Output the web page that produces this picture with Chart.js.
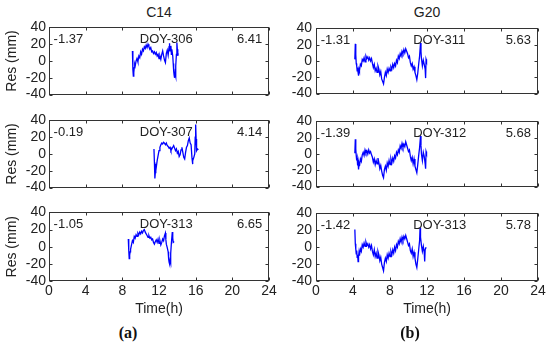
<!DOCTYPE html>
<html>
<head>
<meta charset="utf-8">
<script src="https://cdn.jsdelivr.net/npm/chart.js@4.4.1/dist/chart.umd.min.js"></script>
<style>
html,body{margin:0;padding:0;background:#fff;}
#wrap{position:relative;width:550px;height:345px;overflow:hidden;font-family:'Liberation Sans',Arial,sans-serif;color:#222;}
#wrap canvas{position:absolute;}
.lbl{position:absolute;text-align:center;font-size:14px;line-height:16px;}
.sub{position:absolute;text-align:center;font-family:'Liberation Serif','Times New Roman',serif;font-weight:bold;font-size:16px;line-height:18px;color:#111;}
</style>
</head>
<body>
<div id="wrap">
  <div class="lbl" id="title-left" style="left:109px;top:4px;width:100px"></div>
  <div class="lbl" id="title-right" style="left:377px;top:4px;width:100px"></div>
  <canvas id="p00" width="280" height="90" style="left:0;top:16px"></canvas>
  <canvas id="p01" width="280" height="90" style="left:0;top:109px"></canvas>
  <canvas id="p02" width="280" height="117" style="left:0;top:201px"></canvas>
  <canvas id="p10" width="275" height="90" style="left:275px;top:16px"></canvas>
  <canvas id="p11" width="275" height="90" style="left:275px;top:109px"></canvas>
  <canvas id="p12" width="275" height="117" style="left:275px;top:201px"></canvas>
  <div class="sub" style="left:98px;top:324px;width:60px">(a)</div>
  <div class="sub" style="left:380px;top:324px;width:60px">(b)</div>
</div>
<script>
// --- Data (time in hours, residual in mm) ---
const satellites = ['C14', 'G20'];
const xTicks = [0, 4, 8, 12, 16, 20, 24];
const yTicks = [-40, -20, 0, 20, 40];

const c14Doy = ['DOY-306', 'DOY-307', 'DOY-313'];
const c14Mean = ['-1.37', '-0.19', '-1.05'];
const c14Rms = ['6.41', '4.14', '6.65'];
const g20Doy = ['DOY-311', 'DOY-312', 'DOY-313'];
const g20Mean = ['-1.31', '-1.39', '-1.42'];
const g20Rms = ['5.63', '5.68', '5.78'];

const c14d306 = [[9.10,12],[9.15,-10],[9.20,-18],[9.25,-14],[9.30,-8],[9.35,-4],[9.40,-6],[9.50,0],[9.60,3],[9.70,-1],
  [9.80,6],[9.90,4],[10.00,11],[10.10,8],[10.20,14],[10.30,12],[10.40,17],[10.50,15],[10.60,19],[10.70,16],
  [10.80,20],[10.90,17],[11.00,14],[11.10,16],[11.20,11],[11.30,12],[11.40,9],[11.50,11],[11.60,8],[11.70,10],
  [11.80,6],[11.90,8],[12.00,3],[12.10,6],[12.20,2],[12.30,8],[12.40,12],[12.50,6],[12.60,1],[12.70,-2],
  [12.80,9],[12.90,13],[13.00,7],[13.10,17],[13.15,21],[13.20,12],[13.30,18],[13.35,8],[13.40,14],[13.50,6],
  [13.55,-3],[13.60,-12],[13.65,-17],[13.70,-20],[13.75,-14],[13.80,-18],[13.85,-6],[13.90,8],[13.95,22],[14.00,14],
  [14.05,6],[14.10,9]];
const c14d307 = [[11.45,6],[11.50,-10],[11.55,-29],[11.60,-22],[11.65,-12],[11.70,-16],[11.80,-8],[11.90,-2],[12.00,4],[12.10,8],
  [12.20,11],[12.30,13],[12.40,12],[12.50,14],[12.60,13],[12.70,11],[12.80,13],[12.90,10],[13.00,9],[13.10,7],
  [13.20,8],[13.30,4],[13.40,6],[13.50,8],[13.60,10],[13.70,7],[13.80,4],[13.90,6],[14.00,1],[14.10,3],
  [14.20,-3],[14.30,-1],[14.40,5],[14.50,8],[14.60,2],[14.70,-4],[14.80,-6],[14.90,2],[15.00,8],[15.10,10],
  [15.20,16],[15.30,19],[15.40,13],[15.50,11],[15.60,-5],[15.65,-12],[15.70,-8],[15.80,-4],[15.90,0],[15.95,20],
  [16.00,35],[16.05,18],[16.10,4],[16.20,6],[16.30,5]];
const c14d313 = [[8.65,9],[8.70,-4],[8.75,-14],[8.80,-10],[8.85,-6],[8.90,-3],[9.00,2],[9.10,7],[9.20,5],[9.30,12],
  [9.40,10],[9.50,14],[9.60,12],[9.70,16],[9.80,14],[9.90,17],[10.00,15],[10.10,18],[10.20,16],[10.30,19],
  [10.40,20],[10.50,17],[10.60,15],[10.70,13],[10.80,11],[10.90,13],[11.00,10],[11.10,11],[11.20,8],[11.30,9],
  [11.40,5],[11.50,3],[11.60,6],[11.70,8],[11.80,5],[11.90,9],[12.00,4],[12.10,7],[12.20,2],[12.30,5],
  [12.40,9],[12.50,7],[12.60,13],[12.70,16],[12.75,8],[12.80,3],[12.90,-1],[13.00,-6],[13.05,-14],[13.10,-18],
  [13.15,-20],[13.20,-16],[13.25,-19],[13.30,-8],[13.35,4],[13.45,17],[13.50,10],[13.55,5],[13.65,6]];

const g20d311 = [[4.20,2],[4.25,21],[4.30,8],[4.35,-3],[4.40,-6],[4.45,-12],[4.50,-8],[4.55,-14],[4.60,-18],[4.65,-10],
  [4.70,-12],[4.80,-4],[4.90,-6],[5.00,2],[5.10,0],[5.20,4],[5.30,-1],[5.40,6],[5.50,3],[5.60,5],
  [5.70,1],[5.80,4],[5.90,0],[6.00,3],[6.10,-3],[6.20,-8],[6.30,-4],[6.40,-12],[6.50,-9],[6.60,-14],
  [6.70,-6],[6.80,-10],[6.90,-17],[7.00,-13],[7.10,-22],[7.20,-25],[7.30,-28],[7.40,-20],[7.50,-14],[7.60,-18],
  [7.70,-10],[7.80,-14],[7.90,-9],[8.00,-12],[8.10,-7],[8.20,-10],[8.30,-4],[8.40,-8],[8.50,-3],[8.60,-6],
  [8.70,1],[8.80,-2],[8.90,6],[9.00,3],[9.10,9],[9.20,6],[9.30,12],[9.40,9],[9.50,14],[9.60,10],
  [9.70,15],[9.80,12],[9.90,9],[10.00,4],[10.10,6],[10.20,-2],[10.30,-6],[10.40,-3],[10.50,-10],[10.60,-7],
  [10.70,-14],[10.80,-18],[10.90,-23],[11.00,-15],[11.10,-4],[11.20,6],[11.30,22],[11.35,12],[11.40,3],[11.50,-6],
  [11.60,1],[11.70,-4],[11.80,-10],[11.85,-21],[11.90,2],[11.95,0]];
const g20d312 = [[4.20,1],[4.25,18],[4.30,6],[4.35,-2],[4.40,-8],[4.45,-5],[4.50,-14],[4.55,-10],[4.60,-19],[4.65,-12],
  [4.70,-15],[4.80,-6],[4.90,-9],[5.00,-1],[5.10,2],[5.20,-2],[5.30,5],[5.40,1],[5.50,4],[5.60,0],
  [5.70,5],[5.80,1],[5.90,3],[6.00,-1],[6.10,-4],[6.20,-10],[6.30,-6],[6.40,-13],[6.50,-8],[6.60,-12],
  [6.70,-5],[6.80,-11],[6.90,-18],[7.00,-14],[7.10,-21],[7.20,-26],[7.30,-29],[7.40,-19],[7.50,-15],[7.60,-20],
  [7.70,-11],[7.80,-15],[7.90,-8],[8.00,-13],[8.10,-6],[8.20,-11],[8.30,-5],[8.40,-9],[8.50,-2],[8.60,-5],
  [8.70,2],[8.80,-1],[8.90,5],[9.00,2],[9.10,10],[9.20,7],[9.30,13],[9.40,8],[9.50,12],[9.60,9],
  [9.70,15],[9.80,11],[9.90,7],[10.00,3],[10.10,5],[10.20,-3],[10.30,-8],[10.40,-4],[10.50,-12],[10.60,-6],
  [10.70,-15],[10.80,-19],[10.90,-23],[11.00,-13],[11.10,-2],[11.20,8],[11.30,22],[11.35,10],[11.40,0],[11.50,-8],
  [11.60,2],[11.70,-3],[11.80,-12],[11.85,-18],[11.90,3],[11.95,1]];
const g20d313 = [[4.20,21],[4.25,4],[4.30,-2],[4.35,-8],[4.40,-4],[4.45,-12],[4.50,-9],[4.55,-17],[4.60,-11],[4.65,-6],
  [4.70,-10],[4.80,-2],[4.90,-5],[5.00,3],[5.10,0],[5.20,5],[5.30,1],[5.40,6],[5.50,2],[5.60,4],
  [5.70,0],[5.80,3],[5.90,-2],[6.00,2],[6.10,-5],[6.20,-9],[6.30,-3],[6.40,-11],[6.50,-7],[6.60,-13],
  [6.70,-5],[6.80,-9],[6.90,-16],[7.00,-12],[7.10,-20],[7.20,-24],[7.30,-28],[7.40,-18],[7.50,-13],[7.60,-17],
  [7.70,-9],[7.80,-13],[7.90,-7],[8.00,-11],[8.10,-5],[8.20,-9],[8.30,-3],[8.40,-7],[8.50,0],[8.60,-4],
  [8.70,3],[8.80,0],[8.90,7],[9.00,4],[9.10,10],[9.20,6],[9.30,12],[9.40,8],[9.50,13],[9.60,10],
  [9.70,14],[9.80,10],[9.90,6],[10.00,2],[10.10,4],[10.20,-4],[10.30,-7],[10.40,-2],[10.50,-11],[10.60,-6],
  [10.70,-13],[10.80,-20],[10.90,-24],[11.00,-14],[11.10,-3],[11.20,8],[11.25,23],[11.30,12],[11.40,2],[11.50,-5],
  [11.60,1],[11.70,-6],[11.75,-17],[11.80,-3],[11.90,0]];

// --- Styles ---
const lineColor = '#0000ff';
const axisColor = '#333333';
const textColor = '#222222';
Chart.defaults.font.family = "'Liberation Sans', Arial, sans-serif";
Chart.defaults.font.size = 14;
Chart.defaults.color = textColor;

document.getElementById('title-left').textContent = satellites[0];
document.getElementById('title-right').textContent = satellites[1];

// box, inward ticks and in-panel labels (MATLAB look)
const panelDeco = {
  id: 'panelDeco',
  afterDraw(chart, args, opts){
    const {ctx, chartArea: a, scales: {x, y}} = chart;
    const L = Math.round(a.left)+0.5, R = Math.round(a.right)-0.5;
    const T = Math.round(a.top)+0.5, B = Math.round(a.bottom)-0.5;
    ctx.save();
    ctx.strokeStyle = axisColor; ctx.lineWidth = 1;
    ctx.strokeRect(L, T, R-L, B-T);
    ctx.beginPath();
    xTicks.forEach(v=>{
      const px = Math.round(x.getPixelForValue(v))+0.5;
      ctx.moveTo(px, B); ctx.lineTo(px, B-3);
      ctx.moveTo(px, T); ctx.lineTo(px, T+3);
    });
    yTicks.forEach(v=>{
      const py = Math.round(y.getPixelForValue(v))+0.5;
      ctx.moveTo(L, py); ctx.lineTo(L+3, py);
      ctx.moveTo(R, py); ctx.lineTo(R-3, py);
    });
    ctx.stroke();
    ctx.fillStyle = textColor;
    ctx.font = "13px 'Liberation Sans', Arial, sans-serif";
    ctx.textBaseline = 'middle'; ctx.textAlign = 'left';
    const ty = y.getPixelForValue(25.5);
    ctx.fillText(opts.mean, x.getPixelForValue(0.5), ty);
    ctx.fillText(opts.doy, x.getPixelForValue(opts.doyAt), ty);
    ctx.fillText(opts.rms, x.getPixelForValue(20.5), ty);
    ctx.restore();
  }
};

function makePanel(id, series, doy, mean, rms, col, bottom){
  const yw = col===0 ? 49 : 41;
  const xh = bottom ? 37 : 10;
  return new Chart(document.getElementById(id), {
    type: 'line',
    data: { datasets: [{ data: series.map(p=>({x:p[0], y:p[1]})), borderColor: lineColor, borderWidth: 1.3, pointRadius: 0, tension: 0, fill: false }] },
    options: {
      responsive: false, animation: false, maintainAspectRatio: false,
      layout: { padding: { left: 0, right: col===0 ? 11 : 12, top: 10, bottom: 0 } },
      plugins: { legend: {display:false}, tooltip: {enabled:false},
        panelDeco: { doy, mean, rms, doyAt: col===0 ? 9.9 : 10.5 } },
      scales: {
        x: { type: 'linear', min: 0, max: 24,
          afterBuildTicks: s => { s.ticks = xTicks.map(v=>({value:v})); },
          afterFit: s => { s.height = xh; },
          grid: { display: false, drawTicks: false }, border: { display: false },
          ticks: { display: bottom, padding: 2, maxRotation: 0, autoSkip: false },
          title: { display: bottom, text: 'Time(h)', padding: {top:0, bottom:0} } },
        y: { min: -40, max: 40,
          afterBuildTicks: s => { s.ticks = yTicks.map(v=>({value:v})); },
          afterFit: s => { s.width = yw; },
          grid: { display: false, drawTicks: false }, border: { display: false },
          ticks: { padding: col===0 ? 3 : 4, autoSkip: false },
          title: { display: col===0, text: 'Res (mm)', padding: {top:4, bottom:0} } }
      }
    },
    plugins: [panelDeco]
  });
}

const c14Series = [c14d306, c14d307, c14d313];
const g20Series = [g20d311, g20d312, g20d313];
c14Series.forEach((s,i)=>makePanel('p0'+i, s, c14Doy[i], c14Mean[i], c14Rms[i], 0, i===2));
g20Series.forEach((s,i)=>makePanel('p1'+i, s, g20Doy[i], g20Mean[i], g20Rms[i], 1, i===2));
</script>
</body>
</html>
